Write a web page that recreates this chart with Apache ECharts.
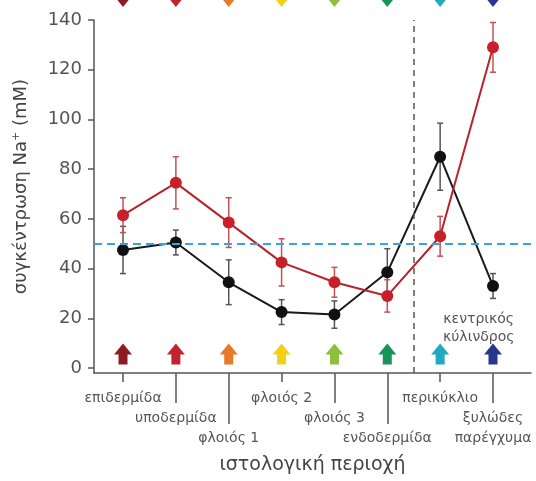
<!DOCTYPE html>
<html>
<head>
<meta charset="utf-8">
<script src="https://cdn.jsdelivr.net/npm/echarts@6/dist/echarts.min.js"></script>
<style>
html,body{margin:0;padding:0;background:#fff;}
#chart{width:536px;height:481px;}
</style>
</head>
<body>
<div id="chart"></div>
<script>
// ---- data ----
const categories = ['επιδερμίδα', 'υποδερμίδα', 'φλοιός 1', 'φλοιός 2', 'φλοιός 3', 'ενδοδερμίδα', 'περικύκλιο', 'ξυλώδες\nπαρέγχυμα'];
const redValues = [61.5, 74.5, 58.5, 42.5, 34.5, 29, 53, 129];
const redErrors = [7, 10.5, 10, 9.5, 6, 6.5, 8, 10];
const blackValues = [47.5, 50.5, 34.5, 22.5, 21.5, 38.5, 85, 33];
const blackErrors = [9.5, 5, 9, 5, 5.5, 9.5, 13.5, 5];
const arrowColors = ['#8e1b24', '#c4222d', '#e8782a', '#f2d01b', '#8dbf3f', '#16955a', '#22a9bf', '#25378f'];
const yTicks = [0, 20, 40, 60, 80, 100, 120, 140];
const labelLevel1 = [0, 3, 6];
const labelLevel2 = [1, 4, 7];
const labelLevel3 = [2, 5];
const thresholdValue = 50;
const dividerPosition = 5.5;
const bottomArrowValue = 5.6;
const topArrowValue = 149.5;
const annotationText = 'κεντρικός\nκύλινδρος';
const annotationCoord = [6.73, 16];

const FONT = 'DejaVu Sans';
const GREY = '#555';

const idx = categories.map((c, i) => i);
const redData = idx.map(i => [i, redValues[i]]);
const blackData = idx.map(i => [i, blackValues[i]]);
const redErr = idx.map(i => [i, redValues[i] - redErrors[i], redValues[i] + redErrors[i]]);
const blackErr = idx.map(i => [i, blackValues[i] - blackErrors[i], blackValues[i] + blackErrors[i]]);
const upArrows = idx.map(i => ({ value: [i, bottomArrowValue], itemStyle: { color: arrowColors[i], opacity: 1 } }));
const downArrows = idx.map(i => ({ value: [i, topArrowValue], itemStyle: { color: arrowColors[i], opacity: 1 } }));

const ARROW = 'path://M9,0 L18,11 L13.5,11 L13.5,21 L4.5,21 L4.5,11 L0,11 Z';

function errRender(color) {
  return function (params, api) {
    const x = api.value(0);
    const lo = api.coord([x, api.value(1)]);
    const hi = api.coord([x, api.value(2)]);
    const cap = 3;
    const style = { stroke: color, lineWidth: 1.5 };
    return {
      type: 'group',
      children: [
        { type: 'line', shape: { x1: lo[0], y1: lo[1], x2: hi[0], y2: hi[1] }, style },
        { type: 'line', shape: { x1: lo[0] - cap, y1: lo[1], x2: lo[0] + cap, y2: lo[1] }, style },
        { type: 'line', shape: { x1: hi[0] - cap, y1: hi[1], x2: hi[0] + cap, y2: hi[1] }, style }
      ]
    };
  };
}

function catAxis(values, tickLen, margin, lineHeight, showLine, extra) {
  return Object.assign({
    type: 'value',
    gridIndex: 0,
    position: 'bottom',
    offset: 0,
    min: -0.549,
    max: 7.719,
    splitLine: { show: false },
    axisLine: { show: showLine, onZero: false, lineStyle: { color: GREY, width: 1.5 } },
    axisTick: { show: true, customValues: values, length: tickLen, lineStyle: { color: GREY, width: 1.5 } },
    axisLabel: {
      customValues: values,
      formatter: v => categories[Math.round(v)],
      margin: margin,
      fontFamily: FONT,
      fontSize: 14,
      lineHeight: lineHeight,
      color: GREY
    }
  }, extra || {});
}

const chart = echarts.init(document.getElementById('chart'), null, { renderer: 'canvas' });
chart.setOption({
  animation: false,
  backgroundColor: '#fff',
  grid: { left: 94, right: 5, top: 20, bottom: 108 },
  xAxis: [
    catAxis(labelLevel1, 9, 18, 14, true, {
      name: 'ιστολογική περιοχή',
      nameLocation: 'middle',
      nameGap: 83,
      nameTextStyle: { fontFamily: FONT, fontSize: 19, color: '#444' }
    }),
    catAxis(labelLevel2, 30, 35, 20, false),
    catAxis(labelLevel3, 51, 55, 20, false)
  ],
  yAxis: {
    type: 'value',
    min: -2,
    max: 140,
    splitLine: { show: false },
    axisLine: { show: true, onZero: false, lineStyle: { color: GREY, width: 1.5 } },
    axisTick: { show: true, customValues: yTicks, length: 6, lineStyle: { color: GREY, width: 1.5 } },
    axisLabel: {
      customValues: yTicks,
      margin: 12,
      fontFamily: FONT,
      fontSize: 18,
      color: GREY,
      formatter: v => String(v)
    },
    name: 'συγκέντρωση Na{sup|+} (mM)',
    nameLocation: 'middle',
    nameGap: 62,
    nameTextStyle: {
      fontFamily: FONT,
      fontSize: 18,
      color: '#444',
      padding: [0, 0, 0, 20],
      rich: { sup: { fontFamily: FONT, fontSize: 11, color: '#444', verticalAlign: 'top', padding: [0, 0, 10, 0] } }
    }
  },
  series: [
    {
      type: 'custom',
      name: 'blackErr',
      xAxisIndex: 0,
      renderItem: errRender('#555'),
      encode: { x: 0, y: [1, 2] },
      data: blackErr,
      z: 2
    },
    {
      type: 'custom',
      name: 'redErr',
      xAxisIndex: 0,
      renderItem: errRender('#c45252'),
      encode: { x: 0, y: [1, 2] },
      data: redErr,
      z: 2
    },
    {
      type: 'line',
      name: 'black',
      xAxisIndex: 0,
      data: blackData,
      symbol: 'circle',
      symbolSize: 12,
      lineStyle: { color: '#1a1a1a', width: 2 },
      itemStyle: { color: '#111', opacity: 1 },
      z: 3,
      markLine: {
        silent: true,
        symbol: 'none',
        label: { show: false },
        data: [{ xAxis: dividerPosition }],
        lineStyle: { color: '#555', type: [6, 5], width: 1.5 }
      }
    },
    {
      type: 'line',
      name: 'red',
      xAxisIndex: 0,
      data: redData,
      symbol: 'circle',
      symbolSize: 12,
      lineStyle: { color: '#b5232b', width: 2 },
      itemStyle: { color: '#c8202b', opacity: 1 },
      z: 4,
      markLine: {
        silent: true,
        symbol: 'none',
        label: { show: false },
        data: [{ yAxis: thresholdValue }],
        lineStyle: { color: '#3aa3dc', type: [8, 5], width: 2 }
      }
    },
    {
      type: 'scatter',
      name: 'upArrows',
      xAxisIndex: 0,
      data: upArrows,
      symbol: ARROW,
      symbolSize: [18, 21],
      clip: false,
      itemStyle: { opacity: 1 },
      z: 3,
      markPoint: {
        symbol: 'circle',
        symbolSize: 0,
        itemStyle: { color: 'transparent' },
        label: {
          show: true,
          position: 'inside',
          formatter: annotationText,
          fontFamily: FONT,
          fontSize: 14,
          lineHeight: 18,
          color: GREY
        },
        data: [{ coord: annotationCoord }]
      }
    },
    {
      type: 'scatter',
      name: 'downArrows',
      xAxisIndex: 0,
      data: downArrows,
      symbol: ARROW,
      symbolRotate: 180,
      symbolSize: [18, 21],
      clip: false,
      itemStyle: { opacity: 1 },
      z: 3
    }
  ]
});
</script>
</body>
</html>
